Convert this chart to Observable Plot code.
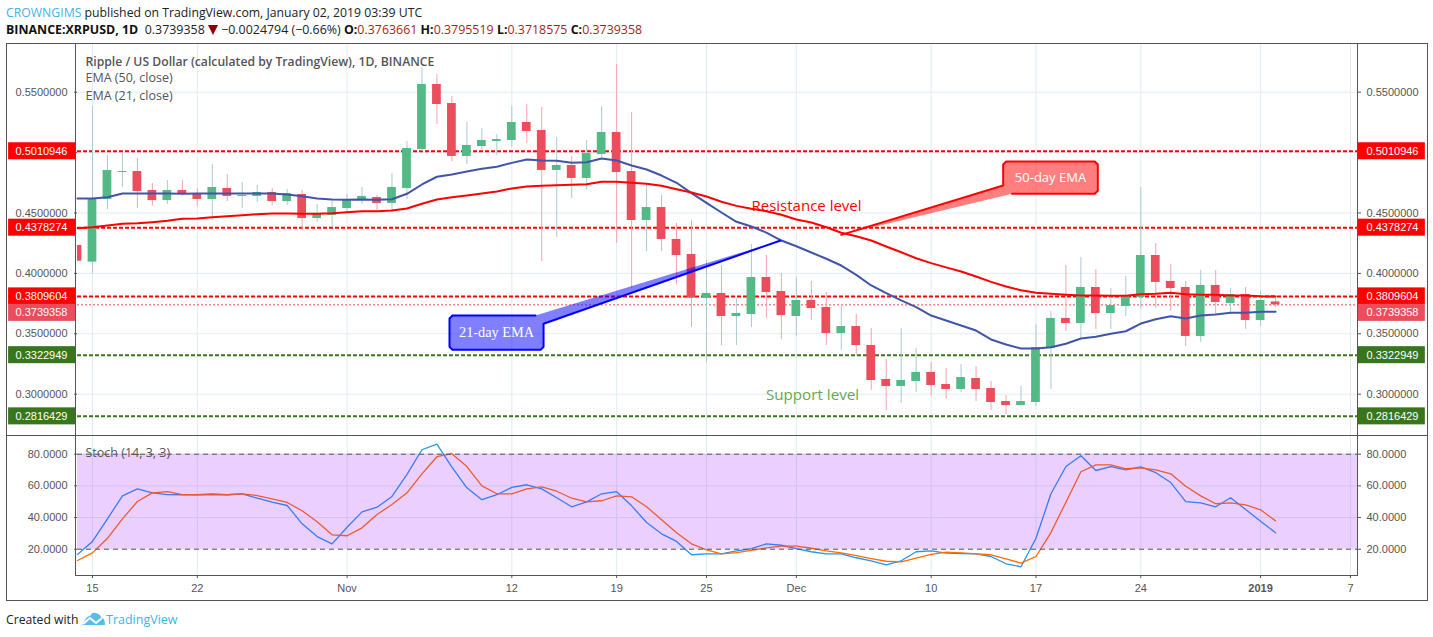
<!DOCTYPE html>
<html><head><meta charset="utf-8">
<script src="https://cdn.jsdelivr.net/npm/d3@7"></script>
<script src="https://cdn.jsdelivr.net/npm/@observablehq/plot@0.6"></script>
<style>
html,body{margin:0;padding:0;background:#fff;width:1433px;height:637px;overflow:hidden}
body{position:relative;font-family:"Open Sans",sans-serif}
.abs{position:absolute;white-space:nowrap}
#l1{left:6px;top:3px;font-size:12.25px;line-height:19px;color:#222}
#l1 b{font-weight:400;color:#41b3e6}
#l2{left:6px;top:20px;font-size:12.42px;line-height:19px;color:#222}
#l2 b{font-weight:700;color:#111}
#l2 i{font-style:normal;color:#b01c1c}
#frame{left:6px;top:43px;width:1420px;height:556px;border:1px solid #555}
#p1{left:0;top:43px}
#p2{left:0;top:435px}
.v{top:43px;height:532px;width:1px;background:#555}
.h{height:1px;background:#555}
#foot{left:6px;top:610px;font-size:12.2px;line-height:19px;color:#222}
#tv{left:106px;top:610px;font-size:12.5px;line-height:19px;color:#41b3e6}
svg{display:block;overflow:visible}
</style></head>
<body>
<div class="abs" id="l1"><b>CROWNGIMS</b> published on TradingView.com, January 02, 2019 03:39 UTC</div>
<div class="abs" id="l2"><b>BINANCE:XRPUSD, 1D</b> &nbsp;0.3739358 <span style="display:inline-block;width:0;height:0;border-left:5px solid transparent;border-right:5px solid transparent;border-top:10px solid #8b0000;vertical-align:-1px"></span> −0.0024794 (−0.66%) <b>O:</b><i>0.3763661</i> <b>H:</b><i>0.3795519</i> <b>L:</b><i>0.3718575</i> <b>C:</b><i>0.3739358</i></div>
<div class="abs" id="p1"></div>
<div class="abs" id="p2"></div>
<div class="abs" id="frame"></div>
<div class="abs v" style="left:75px"></div>
<div class="abs v" style="left:1357px"></div>
<div class="abs h" style="left:6px;width:1421px;top:435px"></div>
<div class="abs h" style="left:75px;width:1283px;top:575px"></div>
<div class="abs" id="foot">Created with</div>
<svg class="abs" style="left:82px;top:612px" width="24" height="14" viewBox="0 0 24 14"><path d="M0 13 L3 8 Q5 4 8 4 Q10 0 14 1 Q18 2 19 5 Q23 6 23 13 Z" fill="#5cbce8"/><path d="M1 12 L8 6 L14 11 L20 6" fill="none" stroke="#fff" stroke-width="2"/></svg>
<div class="abs" id="tv">TradingView</div>
<script>
const firstDay = Date.UTC(2018, 9, 14);
const day = n => new Date(firstDay + n * 864e5);
const open = [.4231,.4093,.4612,.4835,.4843,.4686,.4603,.4686,.4656,.4612,.4703,.4637,.4637,.4670,.4595,.4653,.4454,.4479,
 .4537,.4603,.4628,.4579,.4703,.5026,.5564,.5406,.4968,.5050,.5092,.5100,.5249,.5183,.4852,.4893,.4786,.4984,.5166,.4843,.4438,.4545,.4281,.4156,.3792,.3834,.3643,.3660,.3966,.3850,
 .3643,.3776,.3718,.3502,.3560,.3403,.3122,.3064,.3105,.3180,.3080,.3039,.3130,.3047,.2939,.2906,.2931,.3378,.3627,.3585,.3883,.3668,.3726,.3800,.4148,.3933,.3883,.3478,.3900,.3751,.3825,
 .3610,.3763661];
const high = [.4231,.5382,.4976,.5003,.4951,.4744,.4769,.4769,.4703,.4901,.4819,.4752,.4728,.4703,.4694,.4686,.4570,.4612,
 .4653,.4711,.4645,.4827,.5092,.5704,.5646,.5464,.5249,.5199,.5150,.5382,.5398,.5373,.5125,.4968,.5100,.5382,.5729,.5332,.4736,.4645,.4413,.4438,.4107,.4065,.3792,.4239,.4148,.3999,
 .3966,.3933,.3842,.3743,.3660,.3544,.3287,.3544,.3378,.3262,.3213,.3246,.3229,.3105,.2989,.3064,.3577,.3685,.4065,.4132,.4032,.3875,.3974,.4711,.4247,.4074,.3933,.4024,.4024,.3875,.3883,
 .3850,.3795519];
const low = [.4101,.3997,.4529,.4713,.4537,.4556,.4570,.4639,.4554,.4438,.4595,.4537,.4587,.4562,.4562,.4355,.4421,.4380,
 .4504,.4570,.4521,.4504,.4612,.5009,.5232,.4926,.4901,.5026,.4976,.5042,.5075,.4098,.4297,.4620,.4694,.4959,.4247,.3875,.4181,.4181,.3908,.3552,.3262,.3403,.3403,.3552,.3627,.3453,
 .3478,.3610,.3403,.3362,.3320,.3031,.2865,.2923,.3014,.2981,.2956,.3014,.2939,.2865,.2832,.2906,.2898,.3039,.3519,.3461,.3536,.3536,.3643,.3701,.3709,.3685,.3395,.3428,.3660,.3660,.3536,
 .3560,.3718575];
const close = [.4101,.4617,.4852,.4843,.4678,.4603,.4686,.4653,.4612,.4711,.4637,.4645,.4670,.4595,.4661,.4454,.4488,.4545,
 .4612,.4637,.4579,.4711,.5034,.5564,.5398,.4968,.5059,.5100,.5108,.5249,.5175,.4852,.4893,.4786,.4992,.5166,.4835,.4438,.4545,.4281,.4148,.3795,.3834,.3643,.3668,.3966,.3842,.3651,
 .3776,.3709,.3502,.3560,.3403,.3113,.3064,.3113,.3180,.3072,.3039,.3138,.3039,.2931,.2906,.2939,.3386,.3627,.3585,.3883,.3668,.3734,.3809,.4148,.3925,.3875,.3478,.3900,.3759,.3825,.3610,
 .3776,.3739358];
const ema21 = [.4620,.4620,.4631,.4661,.4661,.4661,.4661,.4659,.4661,.4661,.4661,.4661,.4661,.4661,.4653,.4639,.4620,.4612,
 .4609,.4612,.4609,.4614,.4659,.4736,.4800,.4819,.4843,.4866,.4882,.4915,.4943,.4934,.4932,.4915,.4920,.4951,.4934,.4893,.4860,.4810,.4750,.4664,.4584,.4504,.4427,.4388,.4338,.4272,
 .4225,.4173,.4121,.4065,.3988,.3900,.3836,.3776,.3720,.3651,.3610,.3569,.3527,.3453,.3411,.3378,.3378,.3389,.3417,.3461,.3475,.3500,.3521,.3585,.3621,.3646,.3627,.3651,.3660,.3674,.3674,
 .3682,.3682];
const ema50 = [.4374,.4382,.4396,.4410,.4415,.4424,.4435,.4452,.4454,.4465,.4473,.4482,.4490,.4496,.4496,.4493,.4493,.4498,
 .4507,.4515,.4515,.4521,.4537,.4576,.4612,.4631,.4645,.4661,.4678,.4703,.4719,.4725,.4730,.4733,.4738,.4758,.4758,.4750,.4742,.4725,.4697,.4670,.4637,.4593,.4559,.4535,.4515,.4485,
 .4446,.4421,.4382,.4336,.4308,.4272,.4223,.4175,.4125,.4085,.4050,.4015,.3974,.3930,.3891,.3861,.3839,.3831,.3823,.3817,.3817,.3815,.3815,.3828,.3831,.3839,.3828,.3823,.3823,.3817,.3817,
 .3811,.3809];
const stochK = [16.7,24.9,39.2,53.7,58.1,55.6,54.5,54.4,54.4,55.0,54.4,55.0,52.2,49.7,47.6,36.0,28.0,23.4,
 33.9,43.6,46.5,53.3,67.2,82.8,86.3,71.8,58.8,51.3,54.4,59.0,60.7,58.1,52.5,46.8,49.9,55.0,56.3,47.4,36.9,29.7,24.9,16.5,17.1,17.1,19.0,20.3,23.4,22.5,
 20.3,18.4,17.1,17.1,14.6,12.7,10.1,12.7,18.4,19.0,17.5,17.3,17.1,15.4,10.8,8.9,26.9,55.0,72.2,79.0,69.7,72.2,70.1,72.0,68.3,62.1,50.1,49.3,46.8,52.5,45.1,
 37.7,30.4];
const stochD = [12.9,17.7,26.9,39.2,50.1,55.6,56.3,54.5,54.4,54.4,54.4,55.0,53.9,51.8,49.5,44.3,37.3,29.1,
 28.5,33.5,41.9,48.2,55.6,67.6,78.4,80.3,72.2,60.0,55.0,55.0,58.1,59.4,56.6,52.2,49.9,50.6,53.7,53.1,46.8,38.6,30.4,23.4,19.6,17.1,17.9,19.2,20.9,21.9,
 21.9,20.6,19.0,17.7,16.0,14.1,12.4,12.0,14.3,16.7,18.1,17.7,17.1,16.5,13.9,11.2,15.4,30.5,49.7,68.9,73.3,73.3,70.8,71.4,70.1,67.6,59.8,53.7,48.7,49.3,48.0,
 44.9,37.9];
const priceTicks = [.30,.35,.40,.45,.50,.55];
const stochTicks = [20,40,60,80];
const stochBand = [20,80];
const resistance = [.5010946,.4378274,.3809604];
const support = [.3322949,.2816429];
const lastPrice = .3739358;
const dateTicks = [1,8,18,29,36,42,48,57,64,71,85];
const dateTickLabels = ["15","22","Nov","12","19","25","Dec","10","17","24","7"];
const yearTick = 79;
const yearLabel = "2019";
// callout outlines as [day offset, price]
const callout21 = [[46.94,.4272],[31.12,.3583],[31.12,.3392],[30.92,.3367],[25.04,.3367],[24.84,.3392],[24.84,.3626],[25.04,.3651],[30.58,.3651]];
const callout50 = [[51.0,.4319],[61.81,.4728],[61.81,.4901],[62.01,.4926],[67.93,.4926],[68.13,.4901],[68.13,.4684],[67.93,.4659],[62.41,.4659]];
const notes = [
 {d:48.68,p:.4554,t:"Resistance level",c:"#ff0000",s:15,f:"Open Sans"},
 {d:49.08,p:.2989,t:"Support level",c:"#6aa84f",s:15.2,f:"Open Sans"},
 {d:27.98,p:.3509,t:"21-day EMA",c:"#ffffff",s:14.3,f:"Liberation Serif"},
 {d:64.97,p:.4795,t:"50-day EMA",c:"#ffffff",s:13,f:"Open Sans"}
];
const legendLines = ["Ripple / US Dollar (calculated by TradingView), 1D, BINANCE","EMA (50, close)","EMA (21, close)"];

const table = open.map((o,i)=>({date:day(i),open:o,high:high[i],low:low[i],close:close[i],ema21:ema21[i],ema50:ema50[i],k:stochK[i],d:stochD[i]}));
const GREEN="#53b987",RED="#eb4d5c",GW="#a8cbd0",RW="#f6a3ad",GRID="#e1ecf2",TXT="#555";
const xDomain=[day(0),day(85.47)];
const allTicks=[...dateTicks,yearTick].map(day);
const leftA=day(-4.6),leftB=day(-.13),rightA=day(85.47),rightB=day(90);
const tags=[...resistance.map(v=>({v,c:"#ff0000"})),...support.map(v=>({v,c:"#38761d"}))];
const tagH=.00704;
function tagMarks(data,dy){
  const fmt=d=>d.v.toFixed(7);
  const m=[];
  for(const [a,b,tx,anchor] of [[leftA,leftB,day(-.67),"end"],[rightA,rightB,day(86.07),"start"]]){
    m.push(Plot.rect(data,{x1:()=>a,x2:()=>b,y1:d=>d.v-tagH,y2:d=>d.v+tagH,fill:"c",dy}));
    m.push(Plot.text(data,{x:()=>tx,y:"v",text:fmt,fill:"#fff",textAnchor:anchor,fontSize:11,fontWeight:500,dy}));
  }
  return m;
}
const priceFmt=d3.format(".7f");
const mainPlot=Plot.plot({
  width:1433,height:392,marginLeft:77,marginRight:76,marginTop:0,marginBottom:0,
  style:{fontFamily:"Liberation Sans",fontSize:"11px",color:TXT,background:"transparent"},
  x:{type:"utc",domain:xDomain,axis:null},
  y:{domain:[.2658,.5903],axis:null},
  color:{type:"identity"},
  marks:[
    Plot.ruleX(allTicks,{stroke:GRID}),
    Plot.ruleY(priceTicks,{stroke:GRID}),
    Plot.axisY({anchor:"left",ticks:priceTicks,tickFormat:priceFmt,tickSize:3,tickPadding:7,label:null,stroke:TXT,fill:TXT,fontSize:11}),
    Plot.axisY({anchor:"right",ticks:priceTicks,tickFormat:priceFmt,tickSize:3,tickPadding:6,label:null,stroke:TXT,fill:TXT,fontSize:11}),
    Plot.ruleY([lastPrice],{stroke:RED,strokeDasharray:"2,2",strokeWidth:1}),
    Plot.ruleY(resistance,{stroke:"#ff0000",strokeWidth:2,strokeDasharray:"4,2"}),
    Plot.ruleY(support,{stroke:"#38761d",strokeWidth:2,strokeDasharray:"4,2"}),
    Plot.ruleX(table,{x:"date",y1:"low",y2:"high",stroke:d=>d.close>=d.open?GW:RW,clip:"frame"}),
    Plot.rect(table,{x1:d=>d3.utcHour.offset(d.date,-7),x2:d=>d3.utcHour.offset(d.date,7),y1:"open",y2:"close",fill:d=>d.close>=d.open?GREEN:RED,clip:"frame"}),
    Plot.line(table,{x:"date",y:"ema21",stroke:"#4055a8",strokeWidth:2}),
    Plot.line(table,{x:"date",y:"ema50",stroke:"#ff0000",strokeWidth:2}),
    Plot.line(callout21,{x:d=>day(d[0]),y:d=>d[1],stroke:"#0000ff",strokeWidth:2,fill:"#0000ff",fillOpacity:.5,strokeLinejoin:"round"}),
    Plot.line(callout50,{x:d=>day(d[0]),y:d=>d[1],stroke:"#ff0000",strokeWidth:2,fill:"#ff0000",fillOpacity:.5,strokeLinejoin:"round"}),
    ...notes.map(n=>Plot.text([n],{x:d=>day(d.d),y:"p",text:"t",fill:"c",fontSize:n.s,fontFamily:n.f})),
    ...tagMarks(tags,0),
    ...tagMarks([{v:lastPrice,c:RED}],8),
    ...legendLines.map((t,i)=>Plot.text([t],{frameAnchor:"top-left",dx:8,dy:[14,30,48][i],fill:TXT,fontFamily:"Open Sans",fontSize:i?12.5:12.2,fontWeight:i?400:600}))
  ]
});
document.getElementById("p1").append(mainPlot);

const stochPlot=Plot.plot({
  width:1433,height:165,marginLeft:77,marginRight:76,marginTop:0,marginBottom:25,
  style:{fontFamily:"Liberation Sans",fontSize:"11px",color:TXT,background:"transparent"},
  x:{type:"utc",domain:xDomain,axis:null},
  y:{domain:[3.4,91.8],axis:null},
  marks:[
    Plot.ruleX(allTicks,{stroke:GRID}),
    Plot.ruleY(stochTicks,{stroke:GRID}),
    Plot.line(table,{x:"date",y:"k",stroke:"#2196f3",strokeWidth:1.3}),
    Plot.line(table,{x:"date",y:"d",stroke:"#ff6d00",strokeWidth:1.3}),
    Plot.rect([stochBand],{x1:()=>xDomain[0],x2:()=>xDomain[1],y1:d=>d[0],y2:d=>d[1],fill:"#9915ff",fillOpacity:.2}),
    Plot.ruleY(stochBand,{stroke:"#555",strokeDasharray:"5,4",strokeWidth:1}),
    Plot.axisY({anchor:"left",ticks:stochTicks,tickFormat:d3.format(".4f"),tickSize:3,tickPadding:7,label:null,stroke:TXT,fill:TXT,fontSize:11}),
    Plot.axisY({anchor:"right",ticks:stochTicks,tickFormat:d3.format(".4f"),tickSize:3,tickPadding:6,label:null,stroke:TXT,fill:TXT,fontSize:11}),
    Plot.axisX({ticks:dateTicks.map(day),tickFormat:(d,i)=>dateTickLabels[i],tickSize:3,tickPadding:6,label:null,stroke:TXT,fill:TXT,fontSize:11}),
    Plot.axisX({ticks:[day(yearTick)],tickFormat:()=>yearLabel,tickSize:3,tickPadding:6,label:null,stroke:TXT,fill:TXT,fontSize:11,fontWeight:700}),
    Plot.text(["Stoch (14, 3, 3)"],{frameAnchor:"top-left",dx:8,dy:13,fill:TXT,fontFamily:"Open Sans",fontSize:12.5})
  ]
});
document.getElementById("p2").append(stochPlot);
</script>
</body></html>
